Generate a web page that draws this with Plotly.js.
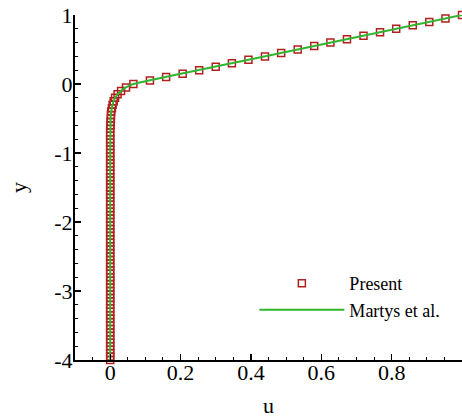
<!DOCTYPE html>
<html>
<head>
<meta charset="utf-8">
<script src="https://cdn.plot.ly/plotly-3.0.1.min.js"></script>
<style>html,body{margin:0;padding:0;overflow:hidden;background:#fff;}</style>
</head>
<body>
<div id="chart" style="width:462px;height:418px;"></div>
<script>
// "Present" results (markers)
const presentY = [
  -4.00,-3.95,-3.90,-3.85,-3.80,-3.75,-3.70,-3.65,-3.60,-3.55,
  -3.50,-3.45,-3.40,-3.35,-3.30,-3.25,-3.20,-3.15,-3.10,-3.05,
  -3.00,-2.95,-2.90,-2.85,-2.80,-2.75,-2.70,-2.65,-2.60,-2.55,
  -2.50,-2.45,-2.40,-2.35,-2.30,-2.25,-2.20,-2.15,-2.10,-2.05,
  -2.00,-1.95,-1.90,-1.85,-1.80,-1.75,-1.70,-1.65,-1.60,-1.55,
  -1.50,-1.45,-1.40,-1.35,-1.30,-1.25,-1.20,-1.15,-1.10,-1.05,
  -1.00,-0.95,-0.90,-0.85,-0.80,-0.75,-0.70,-0.65,-0.60,-0.55,
  -0.50,-0.45,-0.40,-0.35,-0.30,-0.25,-0.20,-0.15,-0.10,-0.05,
   0.00, 0.05, 0.10, 0.15, 0.20, 0.25, 0.30, 0.35, 0.40, 0.45,
   0.50, 0.55, 0.60, 0.65, 0.70, 0.75, 0.80, 0.85, 0.90, 0.95,
   1.00
];
const presentU = [
  0.000,0.000,0.000,0.000,0.000,0.000,0.000,0.000,0.000,0.000,
  0.000,0.000,0.000,0.000,0.000,0.000,0.000,0.000,0.000,0.000,
  0.000,0.000,0.000,0.000,0.000,0.000,0.000,0.000,0.000,0.000,
  0.000,0.000,0.000,0.000,0.000,0.000,0.000,0.000,0.000,0.000,
  0.000,0.000,0.000,0.000,0.000,0.000,0.000,0.000,0.000,0.000,
  0.000,0.000,0.000,0.000,0.000,0.000,0.000,0.000,0.000,0.000,
  0.000,0.000,0.000,0.000,0.000,0.000,0.000,0.000,0.001,0.001,
  0.002,0.002,0.003,0.005,0.007,0.010,0.014,0.021,0.031,0.045,
  0.066,0.113,0.159,0.206,0.253,0.300,0.346,0.393,0.440,0.486,
  0.533,0.580,0.626,0.673,0.720,0.767,0.813,0.860,0.907,0.953,
  1.000
];
// Martys et al. (line)
const martysY = [-4.0,-1.0,-0.6,-0.5,-0.4,-0.3,-0.25,-0.2,-0.15,-0.1,-0.075,-0.05,-0.025,0.0,0.5,1.0];
const martysU = [0.000,0.000,0.001,0.001,0.003,0.007,0.010,0.014,0.021,0.031,0.037,0.045,0.054,0.066,0.533,1.000];

const xTicks = [0, 0.2, 0.4, 0.6, 0.8, 1];
const xTickText = ['0', '0.2', '0.4', '0.6', '0.8', '1'];
const yTicks = [-4, -3, -2, -1, 0, 1];
const yTickText = ['-4', '-3', '-2', '-1', '0', '1'];

const serif = 'Liberation Serif, Times New Roman, serif';

const traces = [
  {
    x: presentU, y: presentY, name: 'Present', type: 'scatter', mode: 'markers',
    cliponaxis: false,
    marker: {symbol: 'square-open', size: 7, color: '#b0201e', line: {width: 1.5, color: '#b0201e'}}
  },
  {
    x: martysU, y: martysY, name: 'Martys et al.', type: 'scatter', mode: 'lines',
    line: {color: '#2fb52f', width: 2, shape: 'spline', smoothing: 0.6}
  }
];

const axisCommon = {
  showgrid: false, zeroline: false, showline: true, linecolor: '#000', linewidth: 2,
  ticks: 'inside', ticklen: 6, tickwidth: 1.2, tickcolor: '#000',
  tickfont: {family: serif, size: 22, color: '#000'},
  mirror: false
};

const layout = {
  width: 462, height: 418,
  margin: {l: 75, r: 0, t: 15, b: 58},
  paper_bgcolor: '#fff', plot_bgcolor: '#fff',
  font: {family: serif, color: '#000'},
  showlegend: true,
  xaxis: Object.assign({}, axisCommon, {
    range: [-0.1, 1.0], tickmode: 'array', tickvals: xTicks, ticktext: xTickText,
    ticklabelposition: 'outside', ticklabelstandoff: -8,
    minor: {dtick: 0.05, ticklen: 3, tickwidth: 1, tickcolor: '#000', ticks: 'inside'},
    title: {text: 'u', font: {family: serif, size: 22, color: '#000'}, standoff: 18}
  }),
  yaxis: Object.assign({}, axisCommon, {
    range: [-4, 1], tickmode: 'array', tickvals: yTicks, ticktext: yTickText,
    ticklabelposition: 'outside', ticklabelstandoff: -4,
    minor: {dtick: 0.2, ticklen: 3, tickwidth: 1, tickcolor: '#000', ticks: 'inside'},
    title: {text: 'y', font: {family: serif, size: 22, color: '#000'}, standoff: 22}
  }),
  legend: {
    x: 0.4635, y: 0.275, xanchor: 'left', yanchor: 'top',
    bgcolor: 'rgba(0,0,0,0)', borderwidth: 0,
    itemwidth: 85,
    font: {family: serif, size: 18, color: '#000'}
  }
};

Plotly.newPlot('chart', traces, layout, {displayModeBar: false, staticPlot: true});
</script>
</body>
</html>
